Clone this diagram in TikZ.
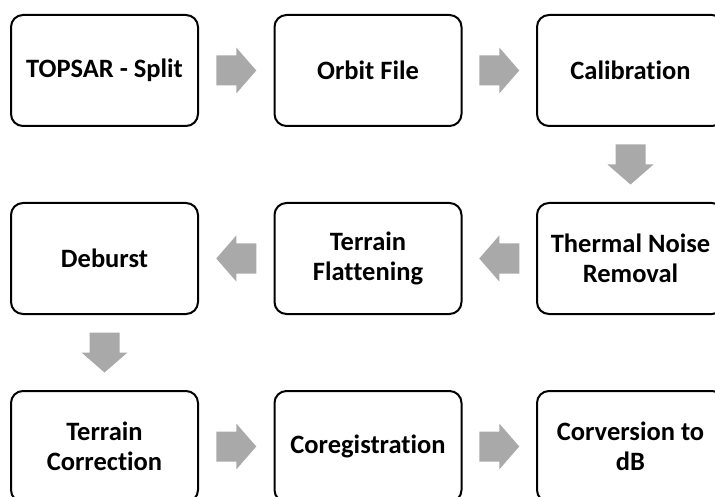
\documentclass[tikz,border=0pt]{standalone}
\usepackage{fontspec}
\setmainfont{Carlito}[Ligatures={NoCommon}, RawFeature={-liga;-clig;-dlig}]
\usetikzlibrary{calc}
\definecolor{arrowgray}{HTML}{A9A9A9}
\tikzset{
  stepbox/.style={draw=black, fill=white, line width=2pt, rounded corners=12pt,
    minimum width=187pt, minimum height=111pt, inner sep=0pt, align=center,
    font=\fontsize{26.5}{30}\selectfont\bfseries},
  blockarrow/.pic={
    \fill[arrowgray] (-20,-15) -- (0,-15) -- (0,-23) -- (20,0) -- (0,23) -- (0,15) -- (-20,15) -- cycle;
  }
}
\begin{document}
\begin{tikzpicture}[x=1pt, y=1pt]
\useasboundingbox (0,0) rectangle (715,-497);
% row 1
\node[stepbox] (n1) at (104.5,-70.5) {TOPSAR - Split};
\node[stepbox] (n2) at (368,-70.5) {Orbit File};
\node[stepbox] (n3) at (630.5,-70.5) {Calibration};
% row 2
\node[stepbox] (n4) at (104.5,-258.5) {Deburst};
\node[stepbox] (n5) at (368,-258.5) {Terrain\\Flattening};
\node[stepbox] (n6) at (630.5,-258.5) {Thermal Noise\\Removal};
% row 3
\node[stepbox] (n7) at (104.5,-446.5) {Terrain\\Correction};
\node[stepbox] (n8) at (368,-446.5) {Coregistration};
\node[stepbox] (n9) at (630.5,-446.5) {Corversion to\\dB};
% arrows
\pic at ($(n1.east)!0.5!(n2.west)$) {blockarrow};
\pic at ($(n2.east)!0.5!(n3.west)$) {blockarrow};
\pic[rotate=-90] at ($(n3.south)!0.5!(n6.north)$) {blockarrow};
\pic[rotate=180] at ($(n6.west)!0.5!(n5.east)$) {blockarrow};
\pic[rotate=180] at ($(n5.west)!0.5!(n4.east)$) {blockarrow};
\pic[rotate=-90] at ($(n4.south)!0.5!(n7.north)$) {blockarrow};
\pic at ($(n7.east)!0.5!(n8.west)$) {blockarrow};
\pic at ($(n8.east)!0.5!(n9.west)$) {blockarrow};
\end{tikzpicture}
\end{document}
